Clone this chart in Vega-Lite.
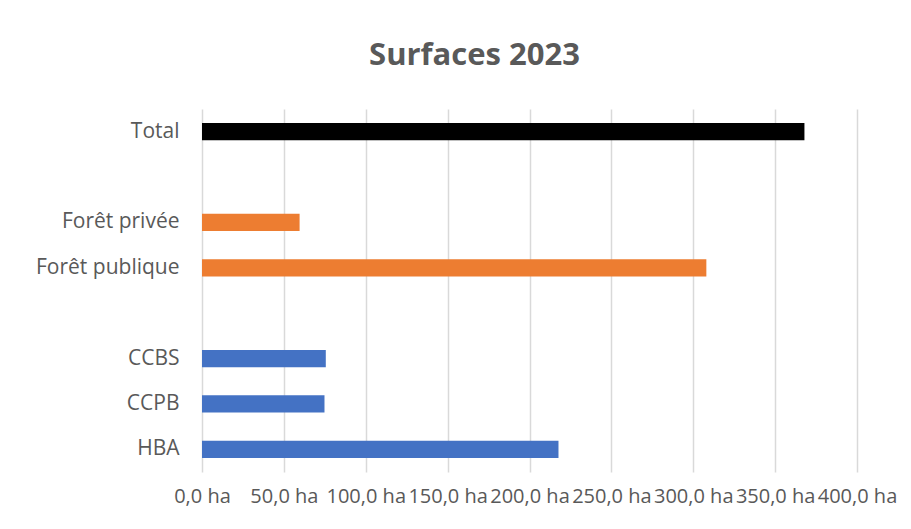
{
  "$schema": "https://vega.github.io/schema/vega-lite/v6.json",
  "autosize": "none",
  "width": 655,
  "height": 363,
  "padding": {"left": 202, "top": 109, "right": 54, "bottom": 57},
  "background": "white",
  "title": {
    "text": "Surfaces 2023",
    "font": "Open Sans",
    "fontSize": 31,
    "fontWeight": "bold",
    "color": "#595959",
    "anchor": "middle",
    "dx": -55,
    "offset": 37
  },
  "data": {
    "values": [
      {"categorie": "Total", "surface": 367.9, "groupe": "total"},
      {"categorie": " ", "surface": null, "groupe": "vide"},
      {"categorie": "Forêt privée", "surface": 59.6, "groupe": "foret"},
      {"categorie": "Forêt publique", "surface": 308.0, "groupe": "foret"},
      {"categorie": "  ", "surface": null, "groupe": "vide"},
      {"categorie": "CCBS", "surface": 75.6, "groupe": "interco"},
      {"categorie": "CCPB", "surface": 74.8, "groupe": "interco"},
      {"categorie": "HBA", "surface": 217.7, "groupe": "interco"}
    ]
  },
  "mark": {"type": "bar"},
  "encoding": {
    "y": {
      "field": "categorie",
      "type": "nominal",
      "sort": ["Total", " ", "Forêt privée", "Forêt publique", "  ", "CCBS", "CCPB", "HBA"],
      "scale": {"paddingInner": 0.62, "paddingOuter": 0.31},
      "axis": {
        "title": null,
        "domain": false,
        "ticks": false,
        "grid": false,
        "labelPadding": 23,
        "labelFont": "Open Sans",
        "labelFontSize": 21,
        "labelColor": "#595959"
      }
    },
    "x": {
      "field": "surface",
      "type": "quantitative",
      "scale": {"domain": [0, 400], "nice": false},
      "axis": {
        "title": null,
        "values": [0, 50, 100, 150, 200, 250, 300, 350, 400],
        "labelExpr": "replace(format(datum.value, '.1f'), '.', ',') + ' ha'",
        "domain": false,
        "ticks": false,
        "grid": true,
        "gridColor": "#d9d9d9",
        "gridWidth": 1.5,
        "labelPadding": 14,
        "labelFont": "Open Sans",
        "labelFontSize": 20,
        "labelColor": "#595959",
        "labelOverlap": false,
        "labelFlush": false
      }
    },
    "color": {
      "field": "groupe",
      "type": "nominal",
      "scale": {"domain": ["total", "foret", "interco", "vide"], "range": ["#000000", "#ED7D31", "#4472C4", "#ffffff"]},
      "legend": null
    }
  },
  "config": {"view": {"stroke": null}}
}
